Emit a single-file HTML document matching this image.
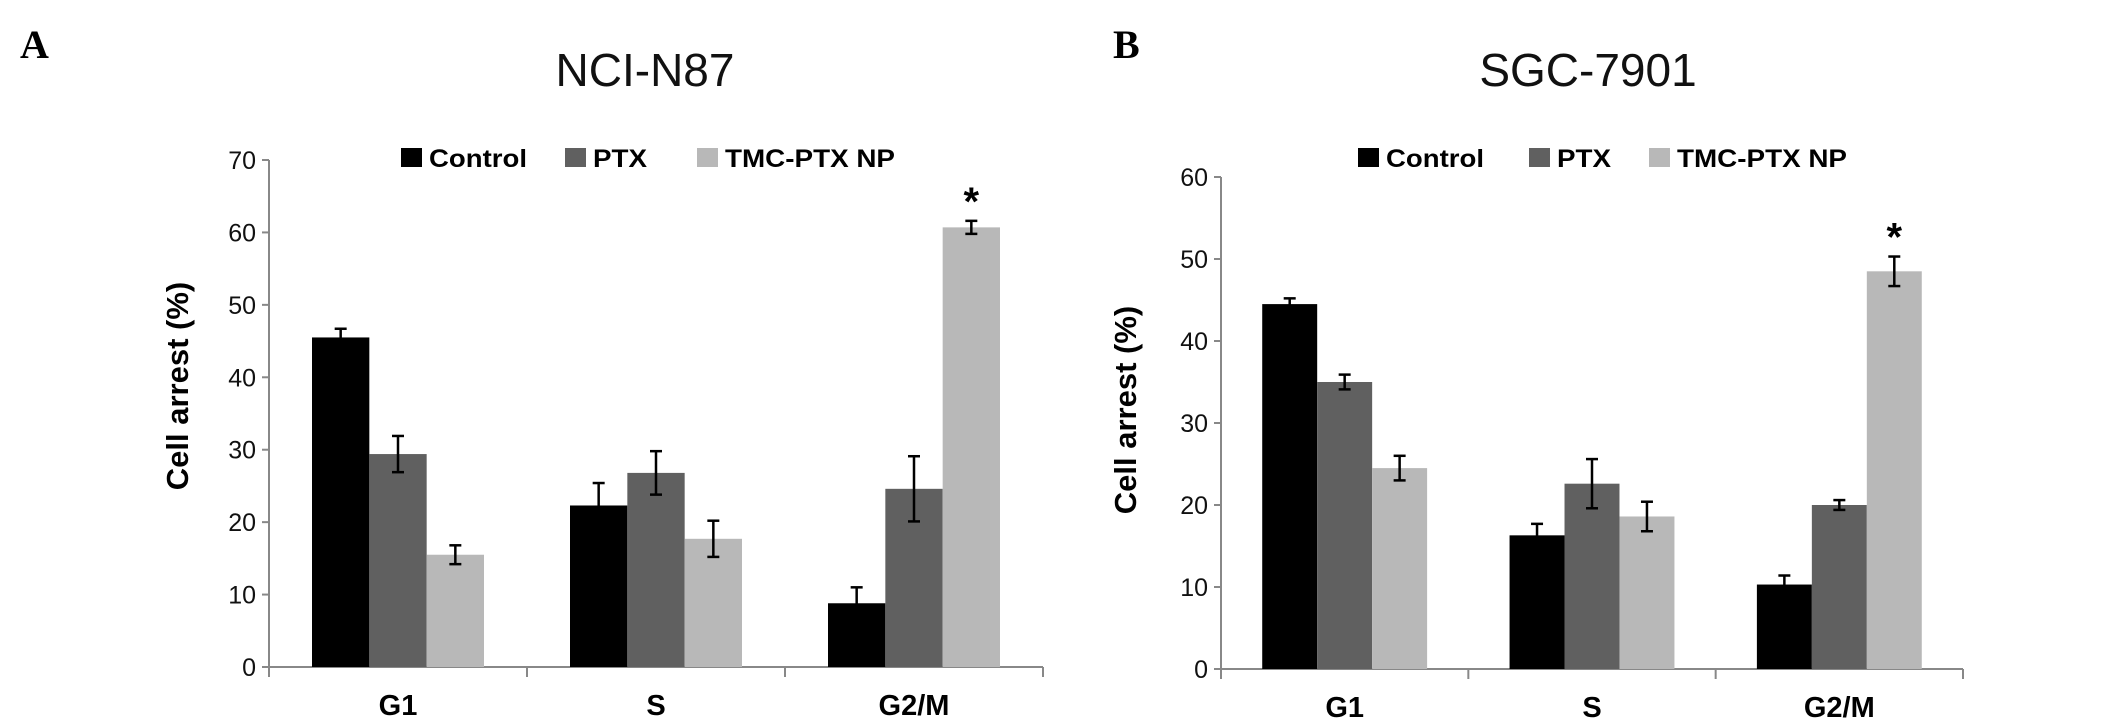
<!DOCTYPE html>
<html><head><meta charset="utf-8"><style>
html,body{margin:0;padding:0;background:#fff;}
svg{display:block;font-family:"Liberation Sans",Arial,sans-serif;}
</style></head><body>
<svg id="fig" width="2126" height="723" viewBox="0 0 2126 723">
<text x="20" y="58" font-family="Liberation Serif,serif" font-weight="bold" font-size="40">A</text>
<text x="1113" y="58" font-family="Liberation Serif,serif" font-weight="bold" font-size="40">B</text>
<g id="chartA"></g>
<g id="chartB"></g>
</svg>
<script>
const categories = ["G1", "S", "G2/M"];
const seriesNames = ["Control", "PTX", "TMC-PTX NP"];
const aControl = [45.5, 22.3, 8.8];
const aPTX = [29.4, 26.8, 24.6];
const aTMC = [15.5, 17.7, 60.7];
const aControlErr = [1.2, 3.1, 2.2];
const aPTXErr = [2.5, 3.0, 4.5];
const aTMCErr = [1.3, 2.5, 0.9];
const aTicks = [0, 10, 20, 30, 40, 50, 60, 70];
const bControl = [44.5, 16.3, 10.3];
const bPTX = [35.0, 22.6, 20.0];
const bTMC = [24.5, 18.6, 48.5];
const bControlErr = [0.7, 1.4, 1.1];
const bPTXErr = [0.9, 3.0, 0.6];
const bTMCErr = [1.5, 1.8, 1.8];
const bTicks = [0, 10, 20, 30, 40, 50, 60];
const starA = [false, false, true];
const starB = [false, false, true];

const NS = "http://www.w3.org/2000/svg";
const colors = ["#000000", "#606060", "#b8b8b8"];
function mk(parent, tag, attrs, text) {
  const e = document.createElementNS(NS, tag);
  for (const k in attrs) e.setAttribute(k, attrs[k]);
  if (text !== undefined) e.textContent = text;
  parent.appendChild(e);
  return e;
}
function drawChart(g, cfg) {
  const { x0, x1, y0, yTop, maxV, ticks, series, errs, stars, title, titleX, legend, yTitleX, yTitleY } = cfg;
  const yS = v => y0 - (v / maxV) * (y0 - yTop);
  const gw = (x1 - x0) / categories.length;
  const bw = gw / 4.5;
  const t = mk(g, "text", { x: titleX, y: 86, "font-size": 46, "text-anchor": "middle", fill: "#111" }, title);
  
  
  // legend
  for (let s = 0; s < 3; s++) {
    const lg = mk(g, "g", {});
    
    
    mk(lg, "rect", { x: legend[s], y: 148, width: 21, height: 19, fill: colors[s] });
    mk(lg, "text", { x: legend[s] + 28, y: 167, "font-size": 25, "font-weight": "bold", fill: "#000", textLength: cfg.legendW[s], lengthAdjust: "spacingAndGlyphs" }, seriesNames[s]);
  }
  // y axis
  const ya = mk(g, "line", { x1: x0, y1: yS(maxV), x2: x0, y2: y0, stroke: "#888", "stroke-width": 2 });
  
  
  ticks.forEach(v => {
    mk(g, "line", { x1: x0 - 7, y1: yS(v), x2: x0, y2: yS(v), stroke: "#888", "stroke-width": 2 });
    const tl = mk(g, "text", { x: x0 - 13, y: yS(v) + 9, "font-size": 25, "text-anchor": "end", fill: "#111" }, String(v));
    
    
  });
  const yt = mk(g, "text", { x: 0, y: 0, "font-size": 31, "font-weight": "bold", "text-anchor": "middle", transform: `translate(${yTitleX},${yTitleY}) rotate(-90)` }, "Cell arrest (%)");
  
  
  // x axis
  const xa = mk(g, "line", { x1: x0, y1: y0, x2: x1, y2: y0, stroke: "#888", "stroke-width": 2 });
  
  
  for (let i = 0; i <= categories.length; i++) {
    mk(g, "line", { x1: x0 + i * gw, y1: y0, x2: x0 + i * gw, y2: y0 + 10, stroke: "#888", "stroke-width": 2 });
  }
  categories.forEach((c, i) => {
    const cx = x0 + gw * (i + 0.5);
    const xl = mk(g, "text", { x: cx, y: y0 + 48, "font-size": 29, "font-weight": "bold", "text-anchor": "middle" }, c);
    
    
    for (let s = 0; s < 3; s++) {
      const v = series[s][i], e = errs[s][i];
      const bx = cx - 1.5 * bw + s * bw;
      const r = mk(g, "rect", { x: bx, y: yS(v), width: bw, height: y0 - yS(v), fill: colors[s] });
      
      
      const mx = bx + bw / 2;
      const eb = mk(g, "g", { stroke: "#000", "stroke-width": 2.5 });
      
      
      mk(eb, "line", { x1: mx, y1: yS(v + e), x2: mx, y2: yS(v - e) });
      mk(eb, "line", { x1: mx - 6, y1: yS(v + e), x2: mx + 6, y2: yS(v + e) });
      mk(eb, "line", { x1: mx - 6, y1: yS(v - e), x2: mx + 6, y2: yS(v - e) });
      if (s === 2 && stars[i]) {
        const st = mk(g, "text", { x: mx, y: yS(v + e) - 6, "font-size": 40, "font-weight": "bold", "text-anchor": "middle" }, "*");
        
        
      }
    }
  });
}
drawChart(document.getElementById("chartA"), {
  x0: 269, x1: 1043, y0: 667, yTop: 160, maxV: 70, ticks: aTicks,
  series: [aControl, aPTX, aTMC], errs: [aControlErr, aPTXErr, aTMCErr], stars: starA,
  title: "NCI-N87", titleX: 645, legend: [401, 565, 697], legendW: [98, 54, 170],
  yTitleX: 188, yTitleY: 386
});
drawChart(document.getElementById("chartB"), {
  x0: 1221, x1: 1963, y0: 669, yTop: 177, maxV: 60, ticks: bTicks,
  series: [bControl, bPTX, bTMC], errs: [bControlErr, bPTXErr, bTMCErr], stars: starB,
  title: "SGC-7901", titleX: 1588, legend: [1358, 1529, 1649], legendW: [98, 54, 170],
  yTitleX: 1136, yTitleY: 410
});
</script>
</body></html>
